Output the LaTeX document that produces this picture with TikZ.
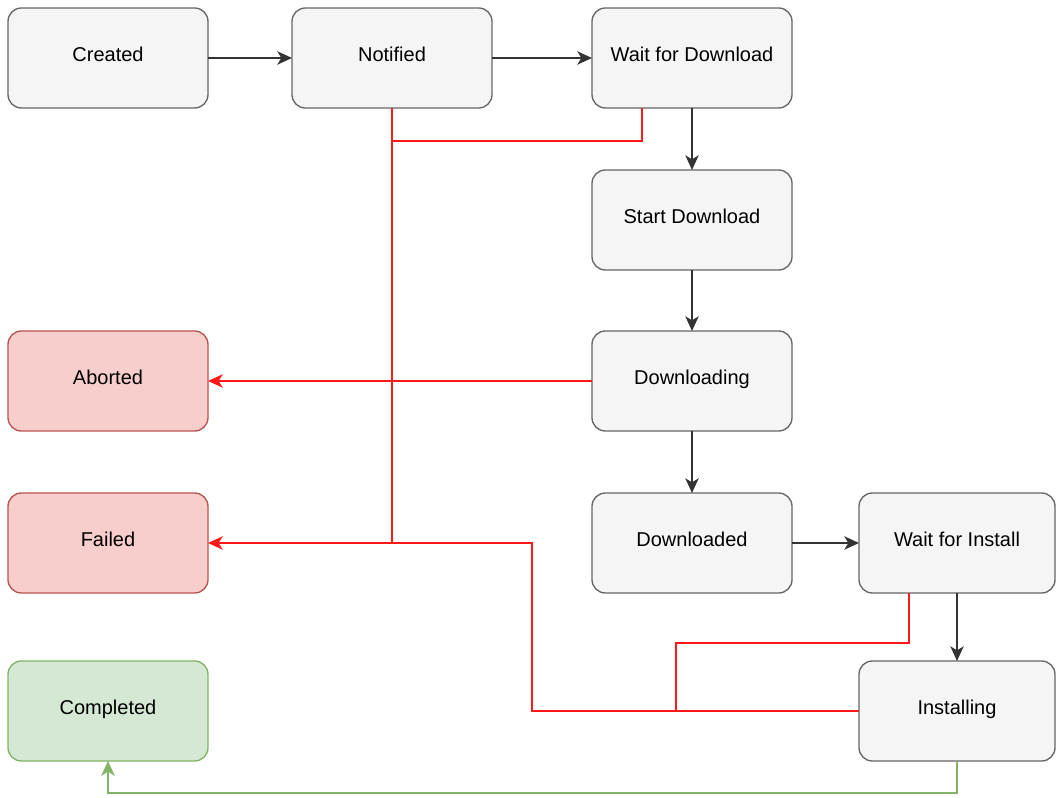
\documentclass[tikz,border=0pt]{standalone}
\usepackage{fontspec}
\setmainfont{Liberation Sans}
\usepackage{xcolor}
\usepackage{tikz}
\usetikzlibrary{arrows.meta, positioning}
\definecolor{boxfill}{HTML}{f5f5f5}
\definecolor{boxline}{HTML}{666666}
\definecolor{badfill}{HTML}{f8cecc}
\definecolor{badline}{HTML}{b85450}
\definecolor{goodfill}{HTML}{d5e8d4}
\definecolor{goodline}{HTML}{82b366}
\definecolor{flow}{HTML}{333333}
\definecolor{failred}{HTML}{ff1a1a}

\begin{document}
\begin{tikzpicture}[>={Stealth[length=11pt, width=10pt, inset=3pt]}]
  \tikzstyle{state}=[rectangle, rounded corners=10pt, minimum width=150pt,
                     minimum height=75pt, draw=boxline, fill=boxfill,
                     line width=1pt, outer sep=0pt, text height=11pt, text depth=6pt,
                     font=\fontsize{15}{18}\selectfont, text centered]
  \tikzstyle{abortst}=[state, draw=badline, fill=badfill]
  \tikzstyle{donest}=[state, draw=goodline, fill=goodfill]
  \tikzstyle{arr}=[->, line width=1.3pt, draw=flow]
  \tikzstyle{failarr}=[line width=1.5pt, draw=failred]
  \tikzstyle{donearr}=[line width=1.5pt, draw=goodline]

  \useasboundingbox (0,0) rectangle (792pt,-598.5pt);

  % top row
  \node[state] (created) at (81pt,-43.5pt) {Created};
  \node[state, right=63pt of created] (notified) {Notified};
  \node[state, right=75pt of notified] (waitdl) {Wait for Download};
  % download column
  \node[state, below=46.5pt of waitdl] (startdl) {Start Download};
  \node[state, below=45.75pt of startdl] (dling) {Downloading};
  \node[state, below=46.5pt of dling] (dled) {Downloaded};
  \node[state, minimum width=147pt, right=50.25pt of dled] (waitin) {Wait for Install};
  \node[state, minimum width=147pt, below=51pt of waitin] (instl) {Installing};
  % end states
  \node[abortst, left=288pt of dling] (aborted) {Aborted};
  \node[abortst, left=288pt of dled] (failed) {Failed};
  \node[donest, below=51pt of failed] (completed) {Completed};

  \coordinate (failjoin) at (399pt,-407.25pt);
  \coordinate (instjoin) at (507pt,-533.25pt);

  \draw[arr] (created) -- (notified);
  \draw[arr] (notified) -- (waitdl);
  \draw[arr] (waitdl) -- (startdl);
  \draw[arr] (startdl) -- (dling);
  \draw[arr] (dling) -- (dled);
  \draw[arr] (dled) -- (waitin);
  \draw[arr] (waitin) -- (instl);

  % failure paths
  \draw[failarr] ([xshift=-37.5pt]waitdl.south) -- ++(0,-24.75pt) -| (notified.south);
  \draw[failarr] (notified.south) -- (notified.south |- failed.east);
  \draw[failarr, ->] (dling.west) -- (aborted.east);
  \draw[failarr, ->] (instl.west) -| (failjoin) -- (failed.east);
  \draw[failarr] ([xshift=-36pt]waitin.south) -- ++(0,-37.5pt) -| (instjoin);

  \draw[donearr, ->] (instl.south) -- ++(0,-24pt) -| (completed.south);
\end{tikzpicture}
\end{document}
